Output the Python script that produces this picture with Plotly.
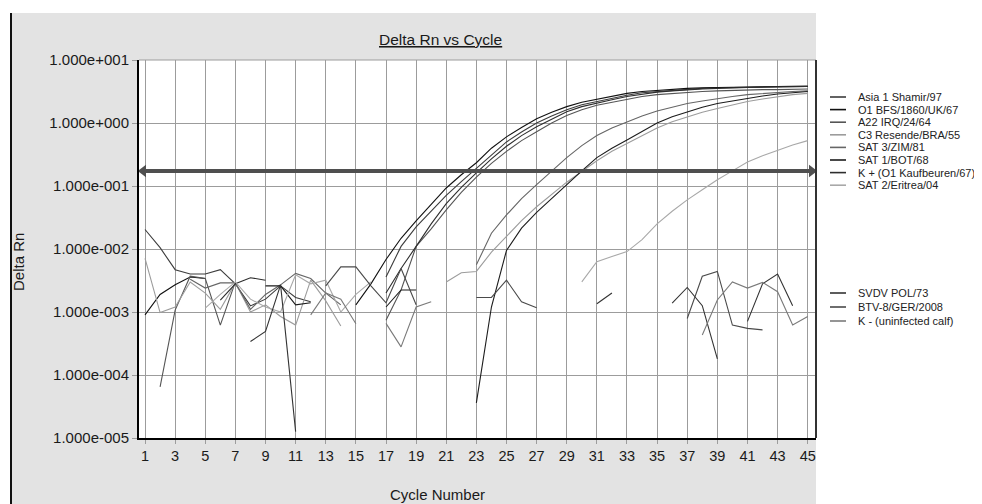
import plotly.graph_objects as go

N = None
cycles = list(range(1, 46))

series_names = [
    "Asia 1 Shamir/97", "O1 BFS/1860/UK/67", "A22 IRQ/24/64", "C3 Resende/BRA/55",
    "SAT 3/ZIM/81", "SAT 1/BOT/68", "K + (O1 Kaufbeuren/67)", "SAT 2/Eritrea/04",
    "SVDV POL/73", "BTV-8/GER/2008", "K - (uninfected calf)",
]
series_colors = [
    "#3c3c3c", "#111111", "#555555", "#9c9c9c",
    "#666666", "#1c1c1c", "#2e2e2e", "#a8a8a8",
    "#333333", "#4a4a4a", "#7a7a7a",
]

asia1 = [
    2.04e-2, 1.05e-2, 4.7e-3, 4.0e-3, 4.0e-3,
    4.7e-3, 2.8e-3, 1.25e-3, 1.6e-3, 2.6e-3,
    1.7e-3, 1.45e-3, N, N, N,
    N, 3.6e-3, 1.1e-2, 2.24e-2, 4.0e-2,
    7.1e-2, 0.117, 0.19, 0.316, 0.50,
    0.72, 1.0, 1.29, 1.62, 1.95,
    2.19, 2.51, 2.75, 3.02, 3.16,
    3.31, 3.47, 3.55, 3.63, 3.67,
    3.72, 3.76, 3.80, 3.80, 3.80,
]
o1_bfs = [
    9.0e-4, 1.9e-3, 2.7e-3, 3.6e-3, 3.4e-3,
    N, N, N, N, N,
    N, N, N, N, 1.3e-3,
    2.8e-3, 6.8e-3, 1.48e-2, 2.8e-2, 5.2e-2,
    9.3e-2, 0.151, 0.234, 0.398, 0.603,
    0.851, 1.17, 1.48, 1.82, 2.14,
    2.40, 2.69, 2.95, 3.16, 3.31,
    3.47, 3.55, 3.63, 3.67, 3.72,
    3.76, 3.80, 3.80, 3.85, 3.85,
]
a22 = [
    N, 6.5e-5, 1.07e-3, 3.7e-3, 3.4e-3,
    6.2e-4, 3.0e-3, N, N, N,
    N, N, N, N, N,
    N, 7.4e-4, 2.24e-3, 1.1e-2, 2.09e-2,
    4.17e-2, 7.94e-2, 0.138, 0.229, 0.355,
    0.525, 0.724, 1.0, 1.32, 1.62,
    1.91, 2.14, 2.40, 2.63, 2.82,
    2.95, 3.09, 3.16, 3.24, 3.31,
    3.35, 3.39, 3.39, 3.43, 3.47,
]
c3_resende = [
    7.1e-3, 9.8e-4, 1.2e-3, 3.0e-3, 2.0e-3,
    1.1e-3, 2.9e-3, 1.0e-3, 1.3e-3, 8.5e-4,
    6.2e-4, 3.2e-3, 1.5e-3, 6.0e-4, N,
    N, N, N, N, N,
    3.0e-3, 4.2e-3, 4.4e-3, 8.9e-3, 1.58e-2,
    2.82e-2, 4.68e-2, 7.41e-2, 0.115, 0.170,
    0.251, 0.355, 0.468, 0.631, 0.832,
    1.05, 1.26, 1.48, 1.70, 1.95,
    2.19, 2.40, 2.63, 2.82, 2.95,
]
sat3 = [
    N, N, N, 3.3e-3, 2.4e-3,
    2.9e-3, 2.9e-3, 1.1e-3, 1.9e-3, 2.7e-3,
    4.1e-3, 3.4e-3, 2.0e-3, 1.3e-3, N,
    N, N, N, N, N,
    N, N, 5.6e-3, 1.78e-2, 3.47e-2,
    6.31e-2, 0.105, 0.174, 0.282, 0.437,
    0.631, 0.832, 1.05, 1.29, 1.55,
    1.78, 2.04, 2.24, 2.45, 2.63,
    2.82, 2.95, 3.09, 3.16, 3.24,
]
sat1 = [
    N, N, N, N, N,
    N, N, N, 2.6e-3, 2.6e-3,
    1.3e-3, 1.4e-3, N, N, N,
    N, 1.2e-3, 2.24e-3, 2.24e-3, N,
    N, N, 3.6e-5, 1.2e-3, 9.5e-3,
    2.14e-2, 3.8e-2, 6.31e-2, 0.107, 0.174,
    0.282, 0.398, 0.537, 0.724, 1.0,
    1.26, 1.51, 1.78, 2.04, 2.24,
    2.45, 2.69, 2.88, 3.02, 3.16,
]
k_plus = [
    N, N, N, N, N,
    1.55e-3, 2.8e-3, 3.5e-3, 3.2e-3, N,
    N, N, N, N, N,
    N, 2.0e-3, 4.9e-3, 1.1e-2, 2.51e-2,
    5.25e-2, 9.55e-2, 0.162, 0.269, 0.427,
    0.631, 0.871, 1.15, 1.51, 1.82,
    2.09, 2.34, 2.63, 2.88, 3.09,
    3.24, 3.39, 3.47, 3.55, 3.63,
    3.67, 3.72, 3.76, 3.80, 3.80,
]
sat2 = [
    N, N, N, N, 1.15e-3,
    1.9e-3, 3.0e-3, 1.6e-3, 1.2e-3, 1.0e-3,
    3.9e-3, 2.8e-3, 3.2e-3, 1.0e-3, 1.9e-3,
    3.0e-3, N, N, N, N,
    N, N, N, N, N,
    N, N, N, N, 3.0e-3,
    6.3e-3, 7.6e-3, 9.1e-3, 1.41e-2, 2.51e-2,
    3.98e-2, 6.03e-2, 8.71e-2, 0.126, 0.174,
    0.240, 0.302, 0.372, 0.447, 0.525,
]
svdv = [
    N, N, N, N, N,
    N, N, 3.4e-4, 4.9e-4, 2.7e-3,
    1.26e-5, N, N, N, N,
    N, N, N, N, N,
    N, N, N, N, N,
    N, N, N, N, N,
    1.35e-3, 2.0e-3, N, N, N,
    1.38e-3, 2.45e-3, 1.26e-3, 1.8e-4, N,
    7.1e-4, 2.8e-3, 4.0e-3, 1.26e-3, N,
]
btv8 = [
    N, N, N, N, N,
    N, N, N, N, N,
    N, N, 2.6e-3, 5.2e-3, 5.2e-3,
    2.6e-3, 1.4e-3, 4.9e-3, 1.3e-3, N,
    N, N, 1.7e-3, 1.7e-3, 3.2e-3,
    1.45e-3, 1.17e-3, N, N, N,
    N, N, N, N, N,
    N, 7.9e-4, 3.7e-3, 4.4e-3, 6.2e-4,
    5.5e-4, 5.2e-4, N, N, N,
]
k_minus = [
    N, N, N, N, N,
    N, N, N, N, N,
    N, 9.0e-4, 2.0e-3, 1.6e-3, 6.5e-4,
    N, 6.6e-4, 2.8e-4, 1.2e-3, 1.45e-3,
    N, N, N, N, N,
    N, N, N, N, N,
    N, N, N, N, N,
    N, N, 4.3e-4, 1.55e-3, 3.0e-3,
    2.4e-3, 2.95e-3, 2.1e-3, 6.2e-4, 8.5e-4,
]

series_values = [asia1, o1_bfs, a22, c3_resende, sat3, sat1, k_plus, sat2,
                 svdv, btv8, k_minus]

threshold = 0.173

x_ticks = list(range(1, 46, 2))
y_ticks = [1e-5, 1e-4, 1e-3, 1e-2, 1e-1, 1e0, 1e1]
y_ticktext = ["1.000e-005", "1.000e-004", "1.000e-003", "1.000e-002",
              "1.000e-001", "1.000e+000", "1.000e+001"]

# ---------------- layout geometry (page pixels) ----------------
PAGE_W, PAGE_H = 982, 504
OFF = 8                      # default body margin of the html page
W, H = PAGE_W - OFF, PAGE_H - OFF
L, R, T, B = 139, 816, 60, 438   # plot area in page pixels
PW, PH = R - L, B - T
x_range = [0.60, 45.55]


def px(xp):
    return (xp - L) / PW


def py(yp):
    return (B - yp) / PH


FONT = "Liberation Sans, Arial, sans-serif"
GRID = "#9c9c9c"

fig = go.Figure()

for name, color, vals in zip(series_names, series_colors, series_values):
    fig.add_trace(go.Scatter(
        x=cycles, y=vals, mode="lines", name=name,
        line=dict(color=color, width=1.1), connectgaps=False,
        hoverinfo="skip",
    ))

# threshold with arrow heads
fig.add_trace(go.Scatter(
    x=[x_range[0] + 0.28, x_range[1] - 0.28], y=[threshold, threshold],
    mode="lines+markers",
    line=dict(color="#4f4f4f", width=4),
    marker=dict(symbol=["triangle-left", "triangle-right"], size=11,
                color="#4f4f4f"),
    cliponaxis=False, hoverinfo="skip", showlegend=False,
))

shapes = [
    dict(type="rect", xref="paper", yref="paper", x0=px(10), x1=px(R),
         y0=py(PAGE_H + 10), y1=py(13), fillcolor="#e3e3e3",
         line=dict(width=0), layer="below"),
    dict(type="rect", xref="paper", yref="paper", x0=0, x1=1, y0=0, y1=1,
         fillcolor="white", line=dict(width=0), layer="below"),
    dict(type="line", xref="paper", yref="paper", x0=px(11), x1=px(11),
         y0=py(13), y1=py(PAGE_H + 10), line=dict(color="#111111", width=2)),
    dict(type="line", xref="paper", yref="paper", x0=0, x1=1, y0=1, y1=1,
         line=dict(color=GRID, width=1)),
    dict(type="line", xref="paper", yref="paper", x0=1, x1=1, y0=0, y1=1,
         line=dict(color="#333333", width=2)),
]

annotations = [
    dict(text="<u>Delta Rn vs Cycle</u>", xref="paper", yref="paper",
         x=px(440), y=py(40), xanchor="center", yanchor="middle",
         showarrow=False, font=dict(size=15.5, color="#1a1a1a", family=FONT)),
    dict(text="Cycle Number", xref="paper", yref="paper",
         x=px(437), y=py(494), xanchor="center", yanchor="middle",
         showarrow=False, font=dict(size=15, color="#1a1a1a", family=FONT)),
    dict(text="Delta Rn", xref="paper", yref="paper",
         x=px(18), y=py(262), xanchor="center", yanchor="middle",
         textangle=-90, showarrow=False,
         font=dict(size=15, color="#1a1a1a", family=FONT)),
]

# manual legend
legend_rows = [(i, 97 + i * 12.6) for i in range(8)]
legend_rows += [(8 + j, 293 + j * 14) for j in range(3)]
for idx, ypix in legend_rows:
    shapes.append(dict(type="line", xref="paper", yref="paper",
                       x0=px(830), x1=px(846), y0=py(ypix), y1=py(ypix),
                       line=dict(color=series_colors[idx], width=1.6)))
    annotations.append(dict(text=series_names[idx], xref="paper", yref="paper",
                            x=px(856), y=py(ypix), xanchor="left",
                            yanchor="middle", showarrow=False,
                            font=dict(size=11, color="#222222", family=FONT)))

fig.update_layout(
    width=W, height=H,
    margin=dict(l=L - OFF, r=PAGE_W - R, t=T - OFF, b=PAGE_H - B, pad=0),
    paper_bgcolor="white", plot_bgcolor="white",
    showlegend=False,
    font=dict(family=FONT, color="#1a1a1a"),
    shapes=shapes, annotations=annotations,
    xaxis=dict(
        range=x_range, tickmode="array", tickvals=x_ticks,
        ticktext=[str(v) for v in x_ticks],
        showgrid=True, gridcolor=GRID, gridwidth=1,
        showline=True, linecolor="#000000", linewidth=2,
        ticks="outside", ticklen=4, tickcolor=GRID,
        tickfont=dict(size=14.5, family=FONT, color="#1a1a1a"),
        zeroline=False, fixedrange=True,
    ),
    yaxis=dict(
        type="log", range=[-5, 1], tickmode="array", tickvals=y_ticks,
        ticktext=y_ticktext,
        showgrid=True, gridcolor=GRID, gridwidth=1,
        showline=True, linecolor="#000000", linewidth=2,
        ticks="outside", ticklen=5, tickcolor=GRID,
        tickfont=dict(size=15, family=FONT, color="#1a1a1a"),
        zeroline=False, fixedrange=True,
    ),
)

fig.write_html("out.html")
